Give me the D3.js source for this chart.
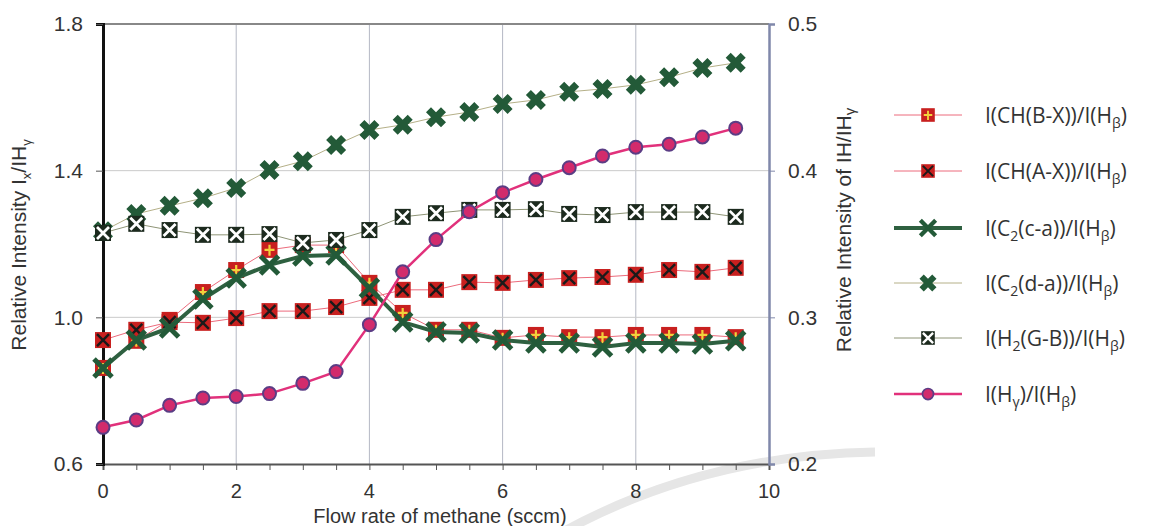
<!DOCTYPE html>
<html>
<head>
<meta charset="utf-8">
<script src="https://cdn.jsdelivr.net/npm/d3@7"></script>
<style>
  body { margin: 0; background: #fff; }
  svg text { font-family: "Liberation Sans", Arial, sans-serif; fill: #333; }
</style>
</head>
<body>
<div id="myPlot"></div>
<script>
// data
const flow = [0, 0.5, 1, 1.5, 2, 2.5, 3, 3.5, 4, 4.5, 5, 5.5, 6, 6.5, 7, 7.5, 8, 8.5, 9, 9.5];
const chBX = [0.862, 0.936, 0.993, 1.069, 1.129, 1.184, 1.197, 1.197, 1.094, 1.012, 0.966, 0.966, 0.944, 0.952, 0.946, 0.946, 0.952, 0.952, 0.952, 0.946];
const chAX = [0.938, 0.966, 0.987, 0.985, 0.998, 1.017, 1.017, 1.028, 1.053, 1.075, 1.075, 1.096, 1.094, 1.102, 1.107, 1.110, 1.116, 1.129, 1.124, 1.135];
const c2ca = [0.862, 0.938, 0.971, 1.050, 1.107, 1.143, 1.167, 1.170, 1.080, 0.987, 0.960, 0.957, 0.938, 0.930, 0.930, 0.919, 0.930, 0.930, 0.927, 0.936];
const c2da = [1.235, 1.282, 1.304, 1.325, 1.353, 1.402, 1.426, 1.470, 1.511, 1.525, 1.546, 1.560, 1.582, 1.593, 1.615, 1.623, 1.634, 1.655, 1.680, 1.694];
const h2gb = [1.230, 1.255, 1.238, 1.225, 1.225, 1.227, 1.203, 1.211, 1.238, 1.274, 1.284, 1.293, 1.293, 1.295, 1.282, 1.279, 1.287, 1.287, 1.287, 1.274];
const hGam = [0.225, 0.230, 0.240, 0.245, 0.246, 0.248, 0.255, 0.263, 0.295, 0.331, 0.353, 0.372, 0.385, 0.394, 0.402, 0.410, 0.416, 0.418, 0.423, 0.429];

const xTicks = [0, 2, 4, 6, 8, 10];
const yLeftTicks = [0.6, 1.0, 1.4, 1.8];
const yRightTicks = [0.2, 0.3, 0.4, 0.5];

const width = 1154, height = 526;
const margin = {top: 24, right: 385, bottom: 62, left: 103};

const svg = d3.select('#myPlot')
  .append('svg')
    .attr('width', width)
    .attr('height', height);

const x = d3.scaleLinear().domain([0, 10]).range([margin.left, width - margin.right]);
const yL = d3.scaleLinear().domain([0.6, 1.8]).range([height - margin.bottom, margin.top]);
const yR = d3.scaleLinear().domain([0.2, 0.5]).range([height - margin.bottom, margin.top]);

// faint watermark arc at the bottom
svg.append('path')
  .attr('d', 'M 540 545 Q 690 455 875 452')
  .attr('fill', 'none')
  .attr('stroke', '#e6e6e6')
  .attr('stroke-width', 9);

// grid
svg.append('g')
  .selectAll('line')
  .data([2, 4, 6, 8])
  .enter().append('line')
    .attr('x1', d => x(d)).attr('x2', d => x(d))
    .attr('y1', yL(1.8)).attr('y2', yL(0.6))
    .attr('stroke', '#b4b8c4').attr('stroke-width', 1);
svg.append('g')
  .selectAll('line')
  .data([1.0, 1.4])
  .enter().append('line')
    .attr('x1', x(0)).attr('x2', x(10))
    .attr('y1', d => yL(d)).attr('y2', d => yL(d))
    .attr('stroke', '#cacaca').attr('stroke-width', 1);

// top border
svg.append('line')
  .attr('x1', x(0)).attr('x2', x(10))
  .attr('y1', yL(1.8)).attr('y2', yL(1.8))
  .attr('stroke', '#888').attr('stroke-width', 2);

// Add X axis
const xAxis = svg.append('g')
  .attr('transform', 'translate(0,' + yL(0.6) + ')')
  .call(d3.axisBottom(x).tickValues(d3.range(0, 10.01, 0.5)).tickSize(6).tickFormat(''));
xAxis.select('.domain').attr('stroke', '#555').attr('stroke-width', 2);
xAxis.selectAll('.tick line').attr('stroke', '#555');
svg.append('g')
  .selectAll('text')
  .data(xTicks)
  .enter().append('text')
    .attr('x', d => x(d))
    .attr('y', yL(0.6) + 34)
    .attr('text-anchor', 'middle')
    .style('font-size', '20px')
    .text(d => d);

// left Y axis
const yAxisL = svg.append('g')
  .attr('transform', 'translate(' + x(0) + ',0)')
  .call(d3.axisLeft(yL).tickValues(yLeftTicks).tickSize(7).tickPadding(13).tickFormat(d3.format('.1f')));
yAxisL.select('.domain').attr('stroke', '#111').attr('stroke-width', 3);
yAxisL.selectAll('.tick line').attr('stroke', '#555');
yAxisL.selectAll('text').style('font-size', '21px').attr('fill', '#333');

// right Y axis
const yAxisR = svg.append('g')
  .attr('transform', 'translate(' + x(10) + ',0)')
  .call(d3.axisRight(yR).tickValues(yRightTicks).tickSize(6).tickPadding(13).tickFormat(d3.format('.1f')));
yAxisR.select('.domain').attr('stroke', '#8088aa').attr('stroke-width', 2.5);
yAxisR.selectAll('.tick line').attr('stroke', '#8088aa');
yAxisR.selectAll('text').style('font-size', '21px').attr('fill', '#333');

// axis titles
svg.append('text')
  .attr('x', 440).attr('y', 523)
  .attr('text-anchor', 'middle')
  .style('font-size', '20px')
  .text('Flow rate of methane (sccm)');

const tl = svg.append('text')
  .attr('transform', 'translate(26,245)rotate(-90)')
  .attr('text-anchor', 'middle')
  .style('font-size', '21px');
tl.append('tspan').text('Relative Intensity I');
tl.append('tspan').attr('dy', 5).style('font-size', '13px').text('x');
tl.append('tspan').attr('dy', -5).text('/IH');
tl.append('tspan').attr('dy', 5).style('font-size', '13px').text('γ');

const tr = svg.append('text')
  .attr('transform', 'translate(851,230)rotate(-90)')
  .attr('text-anchor', 'middle')
  .style('font-size', '21px');
tr.append('tspan').text('Relative Intensity of IH/IH');
tr.append('tspan').attr('dy', 4).style('font-size', '15px').text('γ');

// markers
const RED = '#c8201f', GREEN = '#235a38', YEL = '#f2d23c';
function marker(g, kind) {
  if (kind === 'bx') {
    g.append('rect').attr('x', -8).attr('y', -8).attr('width', 16).attr('height', 16).attr('fill', RED);
    g.append('path').attr('d', 'M-5,0H5M0,-5V6').attr('stroke', YEL).attr('stroke-width', 2.2);
  } else if (kind === 'ax') {
    g.append('rect').attr('x', -8).attr('y', -8).attr('width', 16).attr('height', 16).attr('fill', RED);
    g.append('path').attr('d', 'M-6,-6L6,6M6,-6L-6,6').attr('stroke', '#1a1a1a').attr('stroke-width', 2.4);
  } else if (kind === 'ca') {
    g.append('path').attr('d', 'M-9,-9L9,9M9,-9L-9,9').attr('stroke', GREEN).attr('stroke-width', 5);
  } else if (kind === 'da') {
    g.append('path').attr('d', d3.symbol(d3.symbolCross, 250)()).attr('transform', 'rotate(45)').attr('fill', GREEN);
  } else if (kind === 'gb') {
    g.append('rect').attr('x', -8).attr('y', -8).attr('width', 16).attr('height', 16).attr('fill', '#1c2a1e');
    g.append('path').attr('d', 'M-6,-6L6,6M6,-6L-6,6').attr('stroke', '#fff').attr('stroke-width', 2.8);
  } else if (kind === 'hg') {
    g.append('circle').attr('r', 6.5).attr('fill', '#d22b6c').attr('stroke', '#5b3d85').attr('stroke-width', 2);
  }
}

const series = [
  {name: ['I(CH(B-X))/I(H', 'β', ')'], vals: chBX, y: yL, kind: 'bx', line: '#ec6b7c', lw: 1},
  {name: ['I(CH(A-X))/I(H', 'β', ')'], vals: chAX, y: yL, kind: 'ax', line: '#ec6b7c', lw: 1},
  {name: ['I(C', '2', '(c-a))/I(H', 'β', ')'], vals: c2ca, y: yL, kind: 'ca', line: '#2e6040', lw: 4},
  {name: ['I(C', '2', '(d-a))/I(H', 'β', ')'], vals: c2da, y: yL, kind: 'da', line: '#b5b088', lw: 1},
  {name: ['I(H', '2', '(G-B))/I(H', 'β', ')'], vals: h2gb, y: yL, kind: 'gb', line: '#8e9476', lw: 1},
  {name: ['I(H', 'γ', ')/I(H', 'β', ')'], vals: hGam, y: yR, kind: 'hg', line: '#e1317b', lw: 2.5}
];

series.forEach(s => {
  const line = d3.line()
    .x((d, i) => x(flow[i]))
    .y(d => s.y(d));
  svg.append('path')
    .datum(s.vals)
    .attr('d', line)
    .attr('fill', 'none')
    .attr('stroke', s.line)
    .attr('stroke-width', s.lw);
  svg.append('g')
    .selectAll('g')
    .data(s.vals)
    .enter().append('g')
      .attr('transform', (d, i) => 'translate(' + x(flow[i]) + ',' + s.y(d) + ')')
      .each(function() { marker(d3.select(this), s.kind); });
});

// legend
const legend = svg.append('g');
const rowY = [115, 171, 228, 283, 338, 394];
series.forEach((s, i) => {
  const g = legend.append('g').attr('transform', 'translate(0,' + rowY[i] + ')');
  g.append('line')
    .attr('x1', 894).attr('x2', 962)
    .attr('stroke', s.line).attr('stroke-width', s.lw);
  const m = g.append('g').attr('transform', 'translate(928,0)scale(0.85)');
  marker(m, s.kind);
  const t = g.append('text')
    .attr('x', 985).attr('y', 8)
    .style('font-family', '"Open Sans", "Noto Sans", sans-serif')
    .style('font-size', '21px')
    .attr('fill', '#333');
  s.name.forEach((part, j) => {
    const sub = j % 2 === 1;
    t.append('tspan')
      .attr('dy', sub ? 5 : (j === 0 ? 0 : -5))
      .style('font-size', sub ? '14px' : '21px')
      .text(part);
  });
});
</script>
</body>
</html>
